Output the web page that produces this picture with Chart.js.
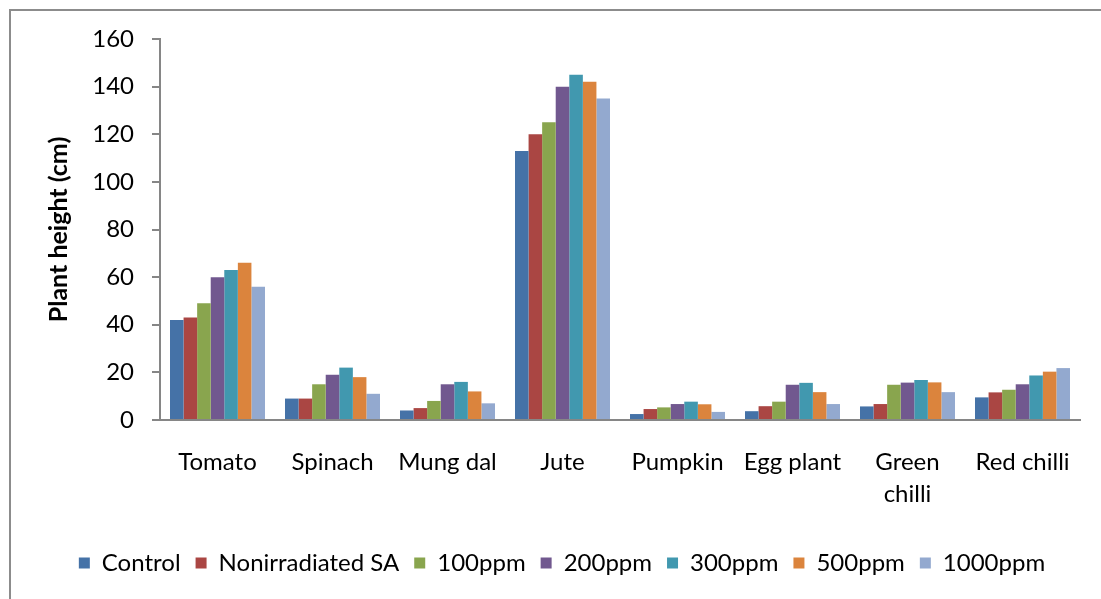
<!DOCTYPE html>
<html>
<head>
<meta charset="utf-8">
<script src="https://cdn.jsdelivr.net/npm/chart.js@4.4.1/dist/chart.umd.min.js"></script>
<style>
  html, body { margin: 0; padding: 0; background: #fff; overflow: hidden; }
  #wrap { position: relative; width: 1101px; height: 599px; }
  #frame { position: absolute; left: 9px; top: 9px; width: 1200px; height: 700px;
           border-top: 2px solid #8c8c8c; border-left: 2px solid #8c8c8c; box-sizing: border-box; }
  canvas { position: absolute; left: 0; top: 0; }
</style>
</head>
<body>
<div id="wrap">
  <div id="frame"></div>
  <canvas id="c" width="1101" height="599"></canvas>
</div>
<script>
// Crops measured
const crops = ['Tomato', 'Spinach', 'Mung dal', 'Jute', 'Pumpkin', 'Egg plant', ['Green', 'chilli'], 'Red chilli'];

// Plant height (cm) per treatment
const control       = [42, 9, 4, 113, 2.5, 3.7, 5.7, 9.5];
const nonirradiated = [43, 9, 5, 120, 4.6, 5.8, 6.7, 11.6];
const ppm100        = [49, 15, 8, 125, 5.3, 7.7, 14.8, 12.7];
const ppm200        = [60, 19, 15, 140, 6.7, 14.8, 15.7, 15];
const ppm300        = [63, 22, 16, 145, 7.7, 15.6, 16.8, 18.7];
const ppm500        = [66, 18, 12, 142, 6.6, 11.7, 15.8, 20.3];
const ppm1000       = [56, 11, 7, 135, 3.4, 6.7, 11.7, 21.8];

const seriesNames = ['Control', 'Nonirradiated SA', '100ppm', '200ppm', '300ppm', '500ppm', '1000ppm'];
const seriesData  = [control, nonirradiated, ppm100, ppm200, ppm300, ppm500, ppm1000];
const seriesColors = ['#4572A7', '#AA4643', '#89A54E', '#71588F', '#4198AF', '#DB843D', '#93A9CF'];

const yTicks = [0, 20, 40, 60, 80, 100, 120, 140, 160];

const FONT = 'Lato, "Open Sans", sans-serif';
const axisGrey = '#868686';

new Chart(document.getElementById('c'), {
  type: 'bar',
  data: {
    labels: crops,
    datasets: seriesNames.map((name, i) => ({
      label: name,
      data: seriesData[i],
      backgroundColor: seriesColors[i],
      borderWidth: 0,
      categoryPercentage: 0.826,
      barPercentage: 1.0
    }))
  },
  options: {
    responsive: false,
    animation: false,
    devicePixelRatio: 1,
    layout: { padding: { left: 44, right: 21, top: 39, bottom: 14 } },
    plugins: {
      tooltip: { enabled: false },
      legend: {
        position: 'bottom',
        labels: {
          boxWidth: 11,
          boxHeight: 11,
          padding: 15,
          color: '#000',
          font: { family: FONT, size: 24 }
        }
      }
    },
    scales: {
      x: {
        grid: { display: false, drawTicks: false },
        border: { display: true, color: axisGrey, width: 2 },
        ticks: {
          color: '#000',
          padding: 26,
          maxRotation: 0,
          autoSkip: false,
          font: { family: FONT, size: 24, lineHeight: 1.33 }
        },
        afterFit: (s) => { s.height = 116; }
      },
      y: {
        min: 0,
        max: 160,
        afterBuildTicks: (s) => { s.ticks = yTicks.map(v => ({ value: v })); },
        grid: { drawOnChartArea: false, drawTicks: true, tickLength: 8, color: axisGrey, lineWidth: 2 },
        border: { display: true, color: axisGrey, width: 2 },
        ticks: {
          color: '#000',
          padding: 18,
          font: { family: FONT, size: 24 }
        },
        title: {
          display: true,
          text: 'Plant height (cm)',
          color: '#000',
          padding: 0,
          font: { family: FONT, size: 25, weight: 'bold' }
        },
        afterFit: (s) => { s.width = 116; }
      }
    }
  }
});
</script>
</body>
</html>
